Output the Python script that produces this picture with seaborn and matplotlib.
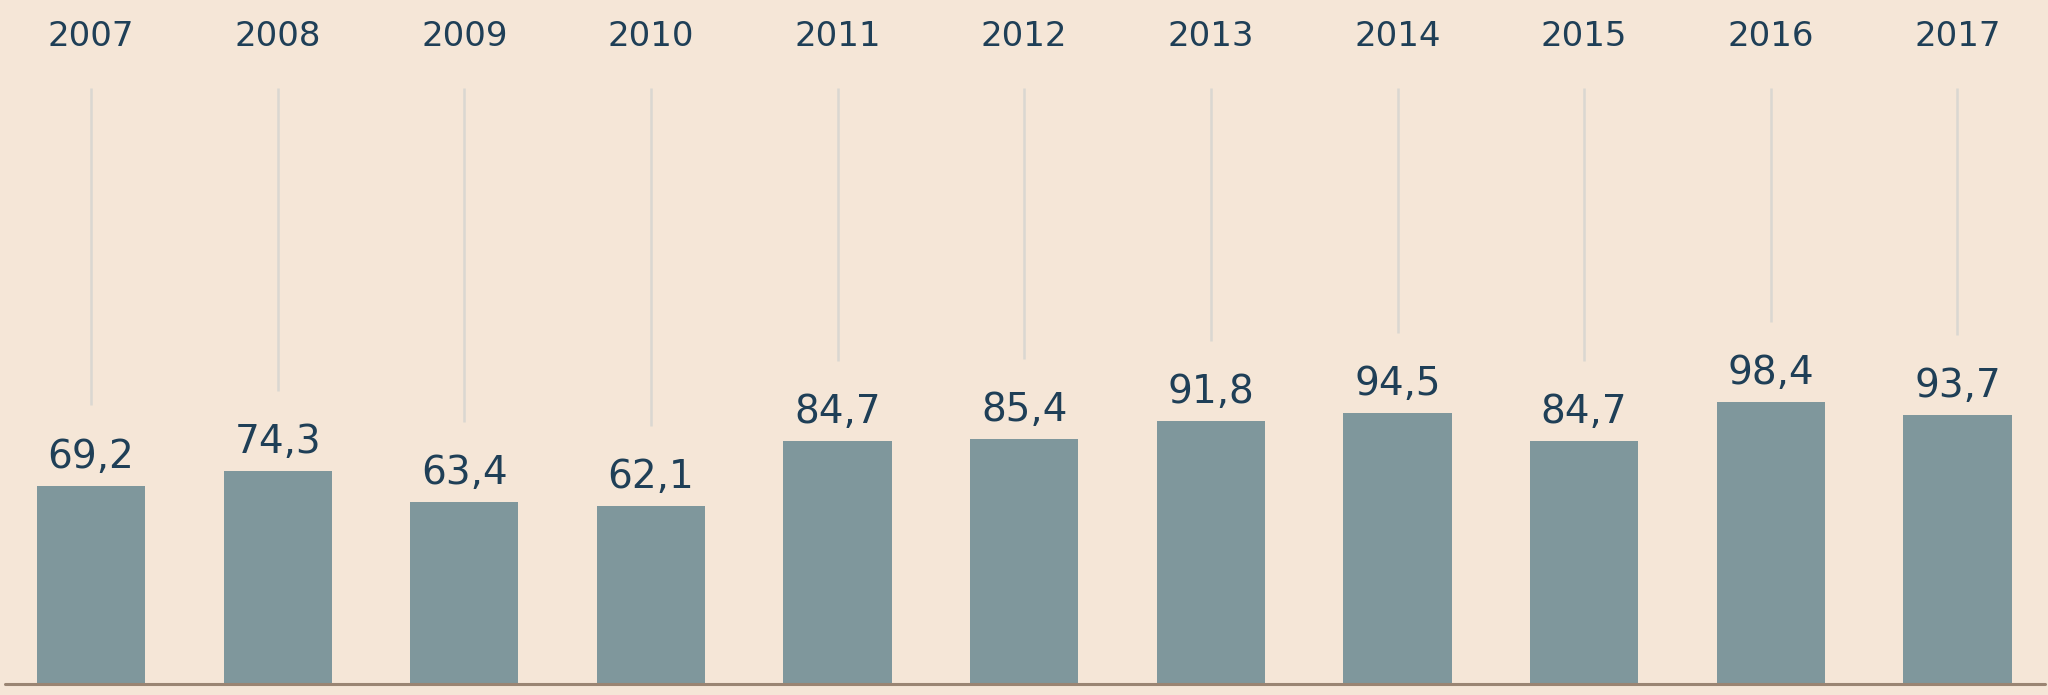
import numpy as np
import pandas as pd
import matplotlib
matplotlib.use('Agg')
import matplotlib.pyplot as plt
import seaborn as sns

years = ['2007', '2008', '2009', '2010', '2011', '2012', '2013', '2014', '2015', '2016', '2017']
values = [69.2, 74.3, 63.4, 62.1, 84.7, 85.4, 91.8, 94.5, 84.7, 98.4, 93.7]

BG = '#f5e6d7'
BAR = '#7f979c'
TEXT = '#1f3f57'
GRID = '#dad7d1'
BASE = '#9a8573'

sns.set_theme(style='white')
plt.rcParams['font.family'] = ['DejaVu Sans']

df = pd.DataFrame({'year': years, 'value': values})

fig = plt.figure(figsize=(20.48, 6.95), dpi=100, facecolor=BG)
ax = fig.add_axes([0, 0, 1, 1])
ax.set_facecolor(BG)

sns.barplot(data=df, x='year', y='value', color=BAR, saturation=1,
            width=0.58, linewidth=0, ax=ax, zorder=2)

ax.set_xlim(-0.4875, 10.485)
ax.set_ylim(-3.84, 238.7)

for i, (yr, v) in enumerate(zip(years, values)):
    # light vertical guide from the year label down towards the value
    ax.plot([i, i], [v + 28, 208], color=GRID, lw=1.8, zorder=1,
            solid_capstyle='butt')
    ax.text(i, v + 6.3, f'{v:.1f}'.replace('.', ','), ha='center',
            va='baseline', fontsize=28, color=TEXT)
    ax.text(i, 222.6, yr, ha='center', va='baseline', fontsize=24.5,
            color=TEXT)

# baseline
ax.axhline(0, xmin=5 / 2048, xmax=2045 / 2048, color=BASE, lw=2.2, zorder=3)

ax.set_xlabel('')
ax.set_ylabel('')
ax.set_xticks([])
ax.set_yticks([])
for s in ax.spines.values():
    s.set_visible(False)

fig.savefig('out.png', dpi=100, facecolor=BG)
